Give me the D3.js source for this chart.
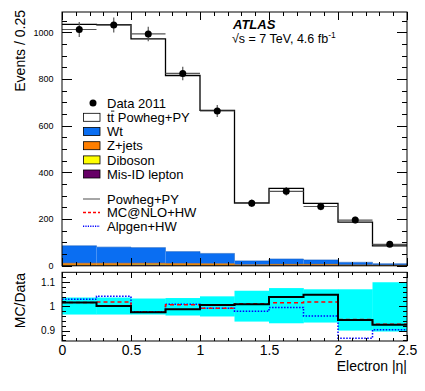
<!doctype html>
<html>
<head>
<meta charset="utf-8">
<script src="https://cdnjs.cloudflare.com/ajax/libs/d3/7.8.5/d3.min.js"></script>
<style>
  body { margin: 0; background: white; }
  svg { font-family: "Liberation Sans", Arial, sans-serif; }
  .tick line { shape-rendering: crispEdges; }
</style>
</head>
<body>
<svg id="chart" width="425" height="391"></svg>
<script>
// bins of electron |eta|
var binLo = [0, 0.25, 0.5, 0.75, 1.0, 1.25, 1.5, 1.75, 2.0, 2.25];
var binW = 0.25;

var data2011 = [1012, 1031, 993, 824, 663, 268, 319, 254, 196, 92];
var dataErr = [32, 32, 31, 29, 26, 16, 18, 16, 14, 10];

// stack, bottom to top
var misID   = [2, 2, 4, 2, 2, 1, 3, 3, 1, 1];
var diboson = [1, 1, 1, 1, 1, 0.5, 0.5, 0.5, 0.5, 0.3];
var zjets   = [8, 8, 6, 7, 6, 3, 3, 3, 2, 1.5];
var wt      = [75, 69, 67, 51, 44, 16.5, 22.5, 18.5, 11.5, 6.2];
var ttbar   = [948, 953, 894, 754, 613, 248, 303, 242, 172, 76];

// ratio panel
var ratioPowheg = [1.016, 1.001, 0.975, 0.988, 1.005, 1.008, 1.038, 1.048, 0.944, 0.924];
var ratioMcnlo  = [1.016, 1.018, 0.976, 1.006, 0.992, 1.010, 1.015, 1.018, 0.946, 0.926];
var ratioAlpgen = [1.029, 1.041, 0.978, 1.008, 0.992, 0.980, 0.995, 0.960, 0.868, 0.903];
var bandUp = [1.036, 1.036, 1.032, 1.034, 1.041, 1.064, 1.075, 1.070, 1.070, 1.099];
var bandDn = [0.966, 0.966, 0.966, 0.962, 0.958, 0.937, 0.930, 0.933, 0.900, 0.896];

var yTicks = [0, 200, 400, 600, 800, 1000];
var rTicks = [0.9, 1, 1.1];
var xTicks = [0, 0.5, 1, 1.5, 2, 2.5];

var stackKeys = ["misID", "diboson", "zjets", "wt", "ttbar"];
var stackColors = {misID: "#660066", diboson: "#ffff00", zjets: "#ff7f00", wt: "#0a6ef2", ttbar: "#ffffff"};

var svg = d3.select("#chart");

var L = 62, R = 407, T = 12, B = 265.8;
var rT = 272.3, rB = 341;

var x = d3.scaleLinear().domain([0, 2.5]).range([L, R]);
var y = d3.scaleLinear().domain([0, 1087]).range([B, T]);
var yr = d3.scaleLinear().domain([0.857, 1.14]).range([rB, rT]);

svg.append("clipPath").attr("id", "clipMain")
  .append("rect").attr("x", L).attr("y", T).attr("width", R - L).attr("height", B - T);
svg.append("clipPath").attr("id", "clipRatio")
  .append("rect").attr("x", L).attr("y", rT).attr("width", R - L).attr("height", rB - rT);

// ---- main panel ----
var rows = binLo.map(function(lo, i) {
  return {lo: lo, misID: misID[i], diboson: diboson[i], zjets: zjets[i], wt: wt[i], ttbar: ttbar[i]};
});
var stacked = d3.stack().keys(stackKeys)(rows);

var gMain = svg.append("g").attr("clip-path", "url(#clipMain)");

stacked.forEach(function(layer) {
  gMain.selectAll("rect." + layer.key)
    .data(layer)
    .enter()
    .append("rect")
      .attr("class", layer.key)
      .attr("x", d => x(d.data.lo))
      .attr("width", d => x(d.data.lo + binW) - x(d.data.lo))
      .attr("y", d => y(d[1]))
      .attr("height", d => y(d[0]) - y(d[1]))
      .attr("fill", stackColors[layer.key])
      .attr("stroke", "none");
});

function stepPts(vals, sx, sy) {
  var pts = [];
  vals.forEach(function(v, i) {
    pts.push([sx(binLo[i]), sy(v)]);
    pts.push([sx(binLo[i] + binW), sy(v)]);
  });
  return pts;
}

// outline of each layer top
stacked.forEach(function(layer) {
  var tops = layer.map(d => d[1]);
  gMain.append("path")
    .attr("d", d3.line()(stepPts(tops, x, y)))
    .attr("fill", "none")
    .attr("stroke", layer.key == "ttbar" ? "#000" : d3.color(stackColors[layer.key]).darker(0.6))
    .attr("stroke-width", layer.key == "ttbar" ? 1.3 : 0.6);
});

// data points
var gData = gMain.append("g");
gData.selectAll("line.xerr")
  .data(data2011)
  .enter()
  .append("line")
    .attr("class", "xerr")
    .attr("x1", (d, i) => x(binLo[i]))
    .attr("x2", (d, i) => x(binLo[i] + binW))
    .attr("y1", d => y(d))
    .attr("y2", d => y(d))
    .attr("stroke", "#555")
    .attr("stroke-width", 1.2);
gData.selectAll("line.yerr")
  .data(data2011)
  .enter()
  .append("line")
    .attr("class", "yerr")
    .attr("x1", (d, i) => x(binLo[i] + binW / 2))
    .attr("x2", (d, i) => x(binLo[i] + binW / 2))
    .attr("y1", (d, i) => y(d - dataErr[i]))
    .attr("y2", (d, i) => y(d + dataErr[i]))
    .attr("stroke", "#555")
    .attr("stroke-width", 1.2);
gData.selectAll("circle")
  .data(data2011)
  .enter()
  .append("circle")
    .attr("cx", (d, i) => x(binLo[i] + binW / 2))
    .attr("cy", d => y(d))
    .attr("r", 3.5)
    .attr("fill", "#000");

// ---- ratio panel ----
var gRatio = svg.append("g").attr("clip-path", "url(#clipRatio)");
gRatio.selectAll("rect.band")
  .data(bandUp)
  .enter()
  .append("rect")
    .attr("class", "band")
    .attr("x", (d, i) => x(binLo[i]))
    .attr("width", x(binW) - x(0) + 0.3)
    .attr("y", d => yr(d))
    .attr("height", (d, i) => yr(bandDn[i]) - yr(d))
    .attr("fill", "#00ffff");

gRatio.append("path")
  .attr("d", d3.line()(stepPts(ratioAlpgen, x, yr)))
  .attr("fill", "none").attr("stroke", "#0000ff").attr("stroke-width", 1.5)
  .attr("stroke-dasharray", "1.5,1.5");
gRatio.append("path")
  .attr("d", d3.line()(stepPts(ratioMcnlo, x, yr)))
  .attr("fill", "none").attr("stroke", "#ff0000").attr("stroke-width", 1.5)
  .attr("stroke-dasharray", "4,3");
gRatio.append("path")
  .attr("d", d3.line()(stepPts(ratioPowheg, x, yr)))
  .attr("fill", "none").attr("stroke", "#000").attr("stroke-width", 2);

// ---- frames & axes ----
svg.append("rect").attr("x", L).attr("y", T).attr("width", R - L).attr("height", B - T)
  .attr("fill", "none").attr("stroke", "#000").attr("stroke-width", 1);
svg.append("rect").attr("x", L).attr("y", rT).attr("width", R - L).attr("height", rB - rT)
  .attr("fill", "none").attr("stroke", "#000").attr("stroke-width", 1);

function addAxis(axis, tx, ty, fontSize) {
  var g = svg.append("g").attr("transform", "translate(" + tx + "," + ty + ")").call(axis);
  g.select(".domain").remove();
  g.selectAll("text").attr("font-family", "Liberation Sans, Arial, sans-serif")
    .attr("font-size", fontSize || 10).attr("fill", "#000");
  return g;
}

var xMinor = d3.range(0, 2.51, 0.1);
var yMinor = d3.range(0, 1087, 50);
var rMinor = d3.range(0.86, 1.14, 0.02);
var plain = d => String(d);

// main
addAxis(d3.axisLeft(y).tickValues(yTicks).tickSize(-10).tickPadding(8.5).tickFormat(plain), L, 0, 9);
addAxis(d3.axisLeft(y).tickValues(yMinor).tickSize(-5).tickFormat(""), L, 0);
addAxis(d3.axisRight(y).tickValues(yTicks).tickSize(-10).tickFormat(""), R, 0);
addAxis(d3.axisRight(y).tickValues(yMinor).tickSize(-5).tickFormat(""), R, 0);
addAxis(d3.axisBottom(x).tickValues(xTicks).tickSize(-8).tickFormat(""), 0, B);
addAxis(d3.axisBottom(x).tickValues(xMinor).tickSize(-4).tickFormat(""), 0, B);
addAxis(d3.axisTop(x).tickValues(xTicks).tickSize(-8).tickFormat(""), 0, T);
addAxis(d3.axisTop(x).tickValues(xMinor).tickSize(-4).tickFormat(""), 0, T);

// ratio
addAxis(d3.axisLeft(yr).tickValues(rTicks).tickSize(-8).tickPadding(7).tickFormat(plain), L, 0, 10);
addAxis(d3.axisLeft(yr).tickValues(rMinor).tickSize(-4).tickFormat(""), L, 0);
addAxis(d3.axisRight(yr).tickValues(rTicks).tickSize(-8).tickFormat(""), R, 0);
addAxis(d3.axisRight(yr).tickValues(rMinor).tickSize(-4).tickFormat(""), R, 0);
addAxis(d3.axisBottom(x).tickValues(xTicks).tickSize(-6).tickPadding(4).tickFormat(plain), 0, rB, 14);
addAxis(d3.axisBottom(x).tickValues(xMinor).tickSize(-3).tickFormat(""), 0, rB);
addAxis(d3.axisTop(x).tickValues(xTicks).tickSize(-6).tickFormat(""), 0, rT);
addAxis(d3.axisTop(x).tickValues(xMinor).tickSize(-3).tickFormat(""), 0, rT);

// ---- titles ----
svg.append("text")
  .attr("transform", "translate(24.5,10) rotate(-90)")
  .attr("text-anchor", "end")
  .attr("font-size", 14)
  .text("Events / 0.25");
svg.append("text")
  .attr("transform", "translate(24.5,273) rotate(-90)")
  .attr("text-anchor", "end")
  .attr("font-size", 14)
  .text("MC/Data");
svg.append("text")
  .attr("x", R).attr("y", 371)
  .attr("text-anchor", "end")
  .attr("font-size", 14)
  .text("Electron |\u03b7|");

svg.append("text")
  .attr("x", 233).attr("y", 29)
  .attr("font-size", 13).attr("font-weight", "bold").attr("font-style", "italic")
  .text("ATLAS");
var lum = svg.append("text").attr("x", 232).attr("y", 43).attr("font-size", 12.5);
lum.append("tspan").text("\u221as = 7 TeV, 4.6 fb");
lum.append("tspan").attr("font-size", 8.5).attr("dy", -5).text("-1");

// ---- legend ----
var legRows = [
  {label: "Data 2011", type: "marker", y: 103},
  {label: "tt Powheg+PY", type: "box", fill: "#ffffff", y: 117.3, bar: true},
  {label: "Wt", type: "box", fill: stackColors.wt, y: 131.5},
  {label: "Z+jets", type: "box", fill: stackColors.zjets, y: 145.7},
  {label: "Diboson", type: "box", fill: stackColors.diboson, y: 159.9},
  {label: "Mis-ID lepton", type: "box", fill: stackColors.misID, y: 174},
  {label: "Powheg+PY", type: "line", color: "#888", dash: null, y: 199},
  {label: "MC@NLO+HW", type: "line", color: "#ff0000", dash: "3,2", y: 212.6},
  {label: "Alpgen+HW", type: "line", color: "#0000ff", dash: "1.2,1.2", y: 226.2}
];

var gLeg = svg.append("g");
legRows.forEach(function(r) {
  if (r.type == "marker") {
    gLeg.append("circle").attr("cx", 93).attr("cy", r.y).attr("r", 3.5).attr("fill", "#000");
  } else if (r.type == "box") {
    gLeg.append("rect").attr("x", 83.5).attr("y", r.y - 4).attr("width", 16.5).attr("height", 8)
      .attr("fill", r.fill).attr("stroke", "#000").attr("stroke-width", 0.8);
  } else {
    gLeg.append("line").attr("x1", 83).attr("x2", 100).attr("y1", r.y).attr("y2", r.y)
      .attr("stroke", r.color).attr("stroke-width", 1.5)
      .attr("stroke-dasharray", r.dash);
  }
  gLeg.append("text").attr("x", 107).attr("y", r.y + 4.6).attr("font-size", 13).text(r.label);
  if (r.bar) {
    // bar over the second t of ttbar
    gLeg.append("line").attr("x1", 111).attr("x2", 114.3)
      .attr("y1", r.y - 6.2).attr("y2", r.y - 6.2)
      .attr("stroke", "#000").attr("stroke-width", 0.9);
  }
});
</script>
</body>
</html>
